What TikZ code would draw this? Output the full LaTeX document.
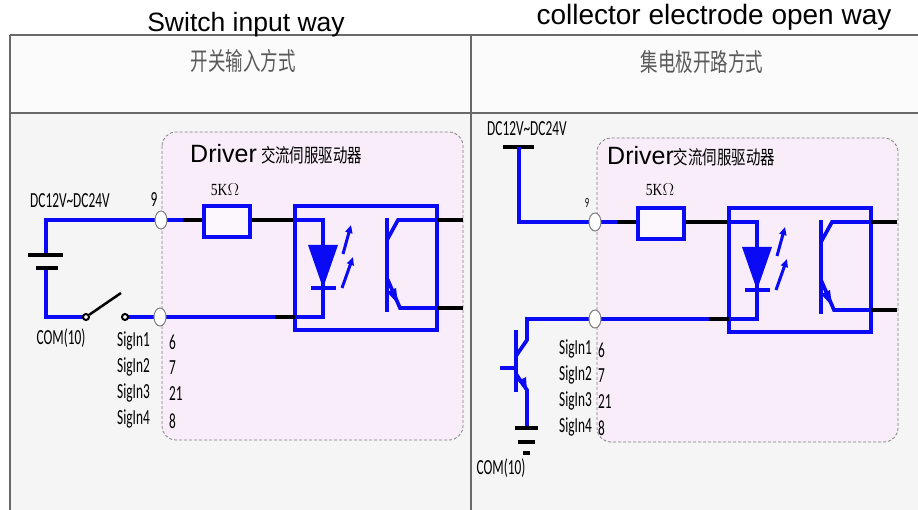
\documentclass[tikz,border=0pt]{standalone}
\usepackage{fontspec}
\setmainfont{Liberation Sans}
\newfontfamily\lbl[FakeStretch=0.62]{Carlito}
\newfontfamily\cjkh[FakeStretch=0.7]{Noto Sans CJK SC}
\newfontfamily\cjkd[FakeStretch=0.76]{Noto Sans CJK SC}
\newfontfamily\rser[FakeStretch=0.8]{Liberation Serif}
\usetikzlibrary{arrows.meta,shapes.geometric}
\definecolor{wblue}{RGB}{10,10,245}
\definecolor{pinkbg}{RGB}{249,237,249}
\definecolor{greybg}{RGB}{245,245,245}
\definecolor{framec}{RGB}{105,105,105}
\tikzset{
  bw/.style={draw=wblue, line width=3.7pt},
  kw/.style={draw=black, line width=4.5pt},
  plate/.style={draw=black, line width=4pt},
  termnode/.style={ellipse, draw=gray, fill=white, line width=1pt, minimum width=12pt, minimum height=18pt, inner sep=0pt},
  swc/.style={circle, draw=black, fill=white, line width=2pt, minimum size=6pt, inner sep=0pt},
  drvbox/.style={draw=gray, dash pattern=on 3pt off 2pt, line width=0.8pt, fill=pinkbg, rounded corners=14pt},
  lab/.style={font=\lbl\fontsize{21.5}{23}\selectfont, inner sep=0pt},
  title/.style={font=\fontsize{26.5}{30}\selectfont, inner sep=0pt},
  hcjk/.style={font=\cjkh\fontsize{25}{27}\selectfont, text=gray!70!black, inner sep=0pt},
  resl/.style={font=\rser\fontsize{17}{18}\selectfont, inner sep=0pt},
  frame/.style={draw=framec, line width=1.3pt}
}
\newcommand\drvint[1]{%
\begin{scope}[shift={#1}]
  \draw[kw] (20,0) -- (43,0);
  \draw[bw] (0,0) -- (22,0);
  \draw[kw] (89,0) -- (134,0);
  \draw[bw, fill=white!55!pinkbg] (43,-14) rectangle (89,17);
  \draw[bw] (134,-14) rectangle (276,110);
  \draw[kw] (112,97) -- (134,97);
  \draw[bw] (0,97) -- (114,97);
  \draw[bw] (134,0) -- (162,0) -- (162,97) -- (134,97);
  \fill[wblue] (147,25) -- (177,25) -- (162,68) -- cycle;
  \draw[wblue, line width=3.5pt] (150,68) -- (175,68);
  \draw[wblue, line width=3pt, -{Triangle[length=8pt,width=7pt]}] (182,34) -- (190,5);
  \draw[wblue, line width=3pt, -{Triangle[length=8pt,width=7pt]}] (181,68) -- (192,37);
  \draw[wblue, line width=4.5pt] (226,-2) -- (226,92);
  \draw[bw] (226,20) -- (237,0) -- (277,0);
  \draw[kw] (276,0) -- (302,0);
  \draw[bw] (226,58) -- (239,88) -- (277,88);
  \draw[kw] (276,88) -- (302,88);
  \fill[wblue] (237,84) -- (235,68) -- (226,72) -- cycle;
\end{scope}}
\begin{document}
\begin{tikzpicture}[x=1pt,y=-1pt]
\useasboundingbox (0,0) rectangle (918,510);
\fill[white] (0,0) rectangle (918,510);
% panels
\fill[greybg] (10,113) rectangle (918,510);
\fill[white!60!greybg] (10,35) rectangle (918,113);
\draw[frame] (10,35) -- (918,35);
\draw[frame] (10,113) -- (918,113);
\draw[frame] (10,35) -- (10,510);
\draw[frame] (471,35) -- (471,510);
% titles
\node[title, anchor=base] (t1) at (246,32) {Switch input way};
\node[title, anchor=base, font=\fontsize{28}{30}\selectfont] (t2) at (714,25) {collector electrode open way};
\node[hcjk] (h1) at (243,61) {开关输入方式};
\node[hcjk] (h2) at (702,62) {集电极开路方式};
% ---------------- left panel
\draw[drvbox] (162,132) rectangle (463,440);
\node[anchor=west, inner sep=0pt, font=\fontsize{25}{27}\selectfont] (Ldrv) at (190,154) {Driver\,{\cjkd\fontsize{19}{20}\selectfont 交流伺服驱动器}};
\coordinate (L9c) at (161,220);
\coordinate (L6c) at (160,317);
\drvint{(161,220)}
\draw[bw] (L9c) -- (46,220) -- (46,255);
\draw[bw] (46,268) -- (46,317) -- (86,317);
\draw[plate] (28,255) -- (63,255);
\draw[plate] (36,268) -- (58,268);
\draw[bw] (125,317) -- (L6c);
\node[swc] (Lsw1) at (86,317) {};
\node[swc] (Lsw2) at (125,317) {};
\coordinate (Llev) at (121,293);
\draw[black, line width=2.5pt] (Lsw1) -- (Llev);
\node[termnode] (L9) at (L9c) {};
\node[termnode] (L6) at (L6c) {};
\node[lab, anchor=west] (Ldc) at (30,201) {DC12V\textasciitilde DC24V};
\node[lab] (Ln9) at (154,200) {9};
\node[resl] (Lr) at (225,190) {5K$\Omega$};
\node[lab] (Lcom) at (61,338) {COM(10)};
\node[lab, anchor=east] (Ls1) at (150,341) {SigIn1};
\node[lab, anchor=east] (Ls2) at (150,367) {SigIn2};
\node[lab, anchor=east] (Ls3) at (150,393) {SigIn3};
\node[lab, anchor=east] (Ls4) at (150,419) {SigIn4};
\node[lab, anchor=west] (Ln1) at (169,342) {6};
\node[lab, anchor=west] (Ln2) at (169,368) {7};
\node[lab, anchor=west] (Ln3) at (169,394) {21};
\node[lab, anchor=west] (Ln4) at (169,421) {8};
% ---------------- right panel
\draw[drvbox] (597,138) rectangle (898,442);
\node[anchor=west, inner sep=0pt, font=\fontsize{25}{27}\selectfont] (Rdrv) at (607,156) {Driver{\cjkd\fontsize{19}{20}\selectfont 交流伺服驱动器}};
\coordinate (R9c) at (595,222);
\coordinate (R6c) at (595,319);
\drvint{(595,222)}
\draw[plate] (503,147) -- (534,147);
\draw[bw] (519,147) -- (519,222) -- (R9c);
\draw[bw] (R6c) -- (527,319) -- (527,340) -- (516,356);
\draw[wblue, line width=4.5pt] (516,330) -- (516,392);
\draw[bw] (500,368) -- (516,368);
\draw[bw] (516,374) -- (527,390) -- (527,429);
\fill[wblue] (527,392) -- (526,377) -- (518,381) -- cycle;
\draw[plate] (515,428) -- (538,428);
\draw[plate] (518,442) -- (535,442);
\draw[plate] (523,453) -- (530,453);
\node[termnode] (R9) at (R9c) {};
\node[termnode] (R6) at (R6c) {};
\node[lab, anchor=west] (Rdc) at (487,129) {DC12V\textasciitilde DC24V};
\node[lab, font=\lbl\fontsize{14}{15}\selectfont] (Rn9) at (587,203) {9};
\node[resl] (Rr) at (660,190) {5K$\Omega$};
\node[lab] (Rcom) at (501,468) {COM(10)};
\node[lab, anchor=east] (Rs1) at (592,349) {SigIn1};
\node[lab, anchor=east] (Rs2) at (592,375) {SigIn2};
\node[lab, anchor=east] (Rs3) at (592,401) {SigIn3};
\node[lab, anchor=east] (Rs4) at (592,427) {SigIn4};
\node[lab, anchor=west] (Rn1) at (598,350) {6};
\node[lab, anchor=west] (Rn2) at (598,376) {7};
\node[lab, anchor=west] (Rn3) at (598,402) {21};
\node[lab, anchor=west] (Rn4) at (598,428) {8};
\end{tikzpicture}
\end{document}
